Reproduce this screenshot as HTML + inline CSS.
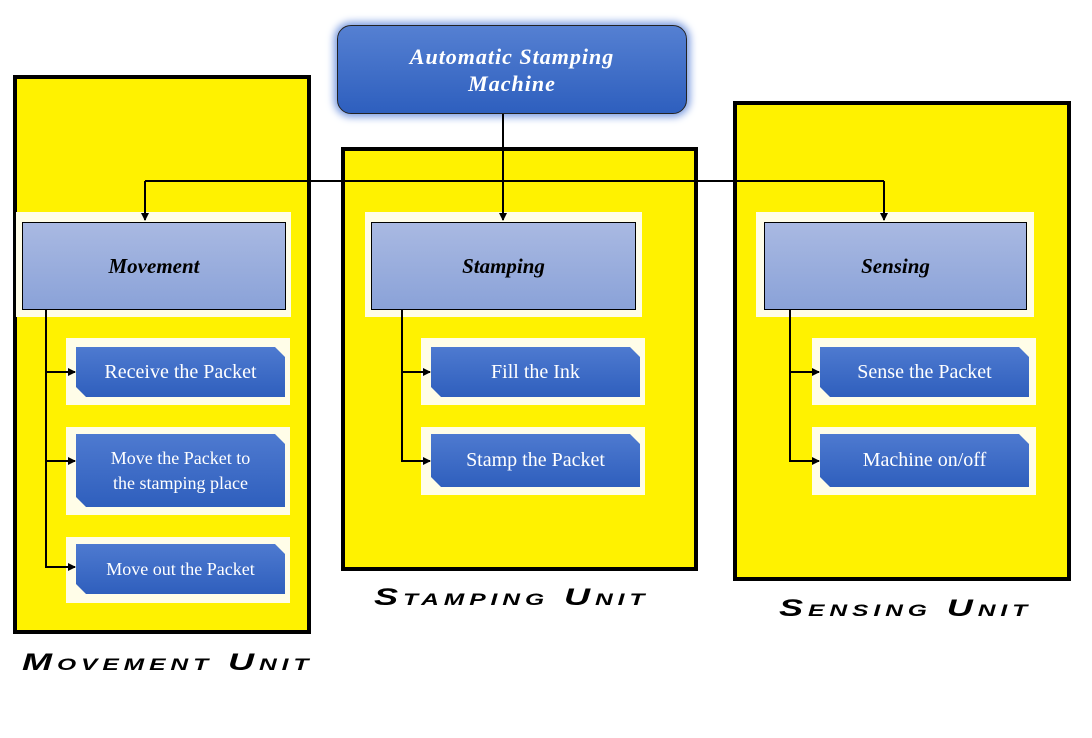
<!DOCTYPE html>
<html><head><meta charset="utf-8"><style>
body{margin:0;width:1092px;height:738px;background:#fff;position:relative;overflow:hidden;font-family:"Liberation Serif",serif}
.a{position:absolute;box-sizing:border-box}
.panel{background:#fff200;border:4px solid #000}
.halo{background:#fffde8}
.hdr{background:linear-gradient(#a9b9e2,#8aa2d8);border:1px solid #000;display:flex;align-items:center;justify-content:center;font:italic bold 21px "Liberation Serif",serif;color:#000}
.sub{background:linear-gradient(#4e7ad0,#2f5fbd);color:#fff;display:flex;align-items:center;justify-content:center;text-align:center;font-size:20px;line-height:25px;clip-path:polygon(0 0,calc(100% - 10px) 0,100% 10px,100% 100%,10px 100%,0 calc(100% - 10px));box-shadow:2px 3px 3px #999}
.sub.sm{font-size:18px}
.lbl{font:italic bold 22px "Liberation Sans",sans-serif;letter-spacing:3px;color:#000;font-variant:small-caps;white-space:nowrap;transform-origin:0 0;transform:scale(1.64,1.1)}
.top{background:linear-gradient(#5580d2,#2e5fbe);border:1px solid #222;border-radius:14px;box-shadow:0 0 8px 3px #7a9be0;color:#fff;font:italic bold 22px "Liberation Serif",serif;text-align:center;line-height:27px;padding-top:17px;letter-spacing:1px}
</style></head><body>
<div class="a panel" style="left:13px;top:75px;width:298px;height:559px"></div>
<div class="a panel" style="left:341px;top:147px;width:357px;height:424px"></div>
<div class="a panel" style="left:733px;top:101px;width:338px;height:480px"></div>

<div class="a halo" style="left:16px;top:212px;width:275px;height:105px"></div>
<div class="a halo" style="left:365px;top:212px;width:277px;height:105px"></div>
<div class="a halo" style="left:756px;top:212px;width:278px;height:105px"></div>
<div class="a halo" style="left:66px;top:338px;width:224px;height:67px"></div>
<div class="a halo" style="left:66px;top:427px;width:224px;height:88px"></div>
<div class="a halo" style="left:66px;top:537px;width:224px;height:66px"></div>
<div class="a halo" style="left:421px;top:338px;width:224px;height:67px"></div>
<div class="a halo" style="left:421px;top:427px;width:224px;height:68px"></div>
<div class="a halo" style="left:812px;top:338px;width:224px;height:67px"></div>
<div class="a halo" style="left:812px;top:427px;width:224px;height:68px"></div>

<div class="a top" style="left:337px;top:25px;width:350px;height:89px">Automatic Stamping<br>Machine</div>

<div class="a hdr" style="left:22px;top:222px;width:264px;height:88px">Movement</div>
<div class="a hdr" style="left:371px;top:222px;width:265px;height:88px">Stamping</div>
<div class="a hdr" style="left:764px;top:222px;width:263px;height:88px">Sensing</div>

<div class="a sub" style="left:76px;top:347px;width:209px;height:50px">Receive the Packet</div>
<div class="a sub sm" style="left:76px;top:434px;width:209px;height:73px">Move the Packet to<br>the stamping place</div>
<div class="a sub sm" style="left:76px;top:544px;width:209px;height:50px">Move out the Packet</div>
<div class="a sub" style="left:431px;top:347px;width:209px;height:50px">Fill the Ink</div>
<div class="a sub" style="left:431px;top:434px;width:209px;height:53px">Stamp the Packet</div>
<div class="a sub" style="left:820px;top:347px;width:209px;height:50px">Sense the Packet</div>
<div class="a sub" style="left:820px;top:434px;width:209px;height:53px">Machine on/off</div>

<svg class="a" style="left:0;top:0" width="1092" height="738">
<defs><marker id="m" markerWidth="8" markerHeight="8" refX="7" refY="4" orient="auto" markerUnits="userSpaceOnUse"><path d="M0,0 L8,4 L0,8z" fill="#000"/></marker></defs>
<g stroke="#000" stroke-width="2" fill="none">
<path d="M503 114 V220" marker-end="url(#m)"/>
<path d="M145 181 H884"/>
<path d="M145 181 V220" marker-end="url(#m)"/>
<path d="M884 181 V220" marker-end="url(#m)"/>
<path d="M46 310 V567 H75" marker-end="url(#m)"/>
<path d="M46 372 H75" marker-end="url(#m)"/>
<path d="M46 461 H75" marker-end="url(#m)"/>
<path d="M402 310 V461 H430" marker-end="url(#m)"/>
<path d="M402 372 H430" marker-end="url(#m)"/>
<path d="M790 310 V461 H819" marker-end="url(#m)"/>
<path d="M790 372 H819" marker-end="url(#m)"/>
</g></svg>

<div class="a lbl" style="left:22px;top:648px">Movement Unit</div>
<div class="a lbl" style="left:374px;top:583px">Stamping Unit</div>
<div class="a lbl" style="left:779px;top:594px">Sensing Unit</div>
</body></html>
